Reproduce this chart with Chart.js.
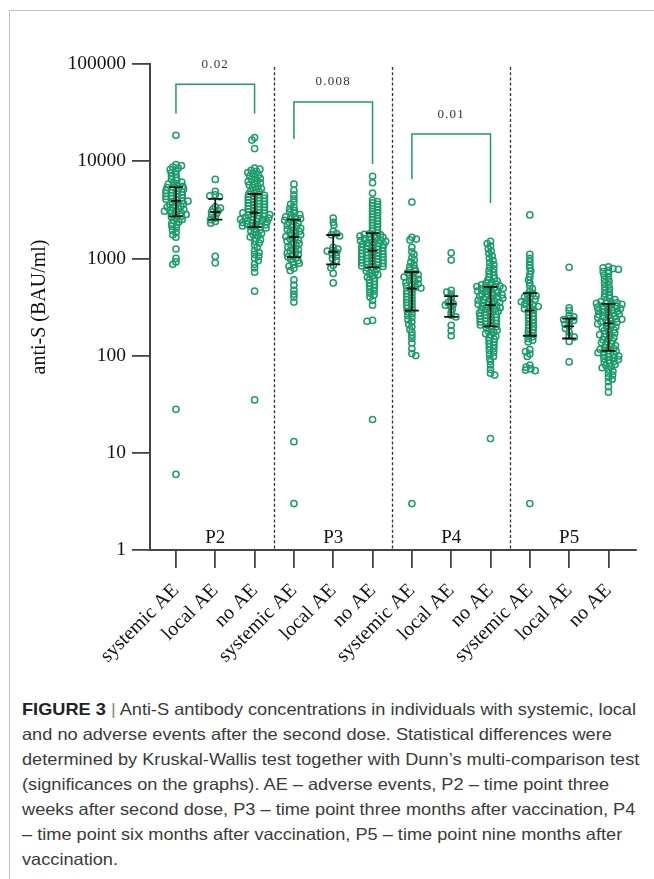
<!DOCTYPE html>
<html>
<head>
<meta charset="utf-8">
<script src="https://cdn.jsdelivr.net/npm/chart.js@4.4.1/dist/chart.umd.min.js"></script>
<style>
  html, body { margin: 0; padding: 0; background: #fff; }
  body { width: 654px; height: 879px; position: relative; overflow: hidden; }
  #frame { position: absolute; left: 9px; top: 10px; width: 660px; height: 900px;
           border-top: 1px solid #c4c4c4; border-left: 1px solid #c4c4c4; }
  #wrap { position: absolute; left: 0; top: 0; width: 654px; height: 680px; }
  #cap { position: absolute; left: 22px; top: 697px; color: #3a3a3a;
         font-family: 'Liberation Sans Narrow', 'Liberation Sans', Arial, sans-serif;
         font-size: 16.5px; line-height: 25px; white-space: nowrap; transform-origin: 0 0; }
  #cap span { display: block; }
  #cap b { color: #222; }
  #cap .bar { color: #888; }
</style>
</head>
<body>
<div id="frame"></div>
<div id="wrap"><canvas id="c" width="654" height="680"></canvas></div>
<div id="cap">
<span id="l1"><b>FIGURE 3</b> <span class="bar" style="display:inline">|</span> Anti-S antibody concentrations in individuals with systemic, local</span>
<span>and no adverse events after the second dose. Statistical differences were</span>
<span>determined by Kruskal-Wallis test together with Dunn’s multi-comparison test</span>
<span>(significances on the graphs). AE – adverse events, P2 – time point three</span>
<span>weeks after second dose, P3 – time point three months after vaccination, P4</span>
<span>– time point six months after vaccination, P5 – time point nine months after</span>
<span>vaccination.</span>
</div>
<script>
// ---------------- DATA ----------------
const categories = ['systemic AE','local AE','no AE','systemic AE','local AE','no AE',
                    'systemic AE','local AE','no AE','systemic AE','local AE','no AE'];
const periods = ['P2','P3','P4','P5'];
const yTicks = [1, 10, 100, 1000, 10000, 100000];

const p2Systemic = [18500, 9200, 9000, 8700, 8500, 8200, 7900, 7600, 7300, 7000, 6750, 6500, 6300, 6100, 5950, 5800, 5650, 5520, 5420,
  5350, 5258, 5168, 5079, 4992, 4906, 4822, 4739, 4658, 4578, 4499, 4422, 4346, 4271, 4198, 4126, 4055, 3985, 3920,
  3880, 3804, 3730, 3657, 3586, 3516, 3447, 3380, 3314, 3249, 3186, 3124, 3063, 3003, 2944, 2887, 2830, 2775, 2720,
  2660, 2590, 2520, 2450, 2380, 2300, 2220, 2140, 2050, 1950, 1850, 1750, 1650, 1250, 1000, 920, 870, 28, 6];
const p2Local = [6500, 4900, 4500, 4400, 4300, 3400, 3300, 3200, 3100, 3000, 2900, 2800, 2600, 2500, 2400, 2300, 1050, 900];
const p2None = [17500, 16500, 13500, 8500, 8274, 8054, 7840, 7632, 7429, 7232, 7040, 6853, 6671, 6494, 6321, 6153, 5990, 5831, 5676, 5525, 5378, 5235, 5096, 4961, 4829, 4700,
  4600, 4520, 4441, 4363, 4287, 4212, 4139, 4066, 3995, 3926, 3857, 3790, 3723, 3658, 3594, 3532, 3470, 3409, 3350, 3291, 3234, 3177, 3122, 3067, 3014, 2961,
  2940, 2901, 2862, 2824, 2786, 2748, 2712, 2675, 2639, 2604, 2569, 2535, 2501, 2467, 2434, 2402, 2370, 2338, 2306, 2276, 2245, 2215, 2185, 2156, 2127, 2100,
  2060, 2010, 1960, 1910, 1860, 1810, 1760, 1710, 1660, 1610, 1560, 1500, 1440, 1380, 1300, 1200, 1150, 1100, 1050, 1000, 950, 870, 800, 720, 460, 35];

const p3Systemic = [5800, 5000, 4500, 4100, 3800, 3600, 3400, 3250, 3120, 3000, 2900, 2820, 2750, 2680, 2620, 2570, 2530,
  2470, 2410, 2353, 2297, 2242, 2189, 2137, 2086, 2036, 1988, 1940, 1894, 1849, 1805, 1762, 1720, 1680,
  1640, 1594, 1549, 1506, 1463, 1422, 1382, 1343, 1306, 1269, 1233, 1199, 1165, 1132, 1100, 1070, 1040,
  1010, 980, 950, 920, 890, 860, 830, 790, 750, 600, 530, 470, 430, 400, 355, 13, 3];
const p3Local = [2600, 2350, 2200, 1900, 1800, 1750, 1700, 1300, 1250, 1210, 1190, 1150, 1100, 1050, 1000, 950, 850, 800, 700, 560];
const p3None = [7000, 6000, 4700, 3981, 3850, 3724, 3602, 3483, 3369, 3258, 3151, 3048, 2948, 2851, 2757, 2667, 2579, 2495, 2413, 2333, 2257, 2183, 2111, 2042, 1974, 1910, 1847,
  1800, 1773, 1746, 1720, 1694, 1668, 1643, 1618, 1593, 1569, 1545, 1522, 1499, 1476, 1454, 1432, 1410, 1388, 1367, 1347, 1326, 1306, 1286, 1267, 1248, 1229, 1210,
  1190, 1173, 1156, 1139, 1122, 1106, 1090, 1074, 1058, 1043, 1028, 1013, 998, 984, 969, 955, 941, 928, 914, 901, 888, 875, 862, 850, 837, 825, 815,
  800, 780, 760, 740, 720, 700, 680, 660, 640, 620, 600, 580, 560, 540, 520, 500, 480, 460, 440, 420, 400, 370, 330, 230, 225, 22];

const p4Systemic = [3800, 1650, 1580, 1550, 1300, 1170, 1100, 1020, 960, 910, 860, 820, 790, 760, 740,
  715, 696, 678, 660, 643, 626, 610, 594, 578, 563, 548, 534, 520, 507, 495,
  480, 464, 448, 433, 418, 404, 390, 377, 364, 352, 340, 328, 317, 306, 295,
  282, 270, 258, 246, 234, 222, 210, 198, 186, 174, 162, 150, 135, 118, 105, 100, 3];
const p4Local = [1140, 960, 470, 450, 430, 400, 370, 350, 340, 330, 320, 300, 280, 260, 250, 205, 180, 160];
const p4None = [1500, 1420, 1340, 1260, 1190, 1120, 1060, 1000, 950, 900, 860, 820, 780, 750, 720, 690, 665, 640, 620, 600, 585, 570, 557, 545, 535, 527, 520, 514,
  508, 500, 492, 485, 477, 470, 462, 455, 448, 441, 434, 427, 421, 414, 408, 401, 395, 389, 383, 377, 371, 365, 360, 354, 349, 343, 338, 332,
  328, 322, 316, 311, 305, 300, 295, 289, 284, 279, 274, 270, 265, 260, 256, 251, 247, 242, 238, 234, 230, 226, 222, 218, 214, 210, 206, 202,
  198, 193, 188, 183, 178, 173, 168, 163, 158, 153, 148, 143, 138, 133, 128, 123, 118, 113, 108, 103, 98, 93, 87, 80, 72, 66, 63, 14];

const p5Systemic = [2800, 1100, 1000, 920, 850, 790, 740, 690, 640, 600, 560, 520, 490, 460,
  435, 423, 411, 400, 389, 378, 368, 358, 348, 338, 329, 320, 311, 303, 295,
  285, 274, 263, 253, 243, 234, 225, 216, 207, 199, 192, 184, 177, 170, 163,
  156, 150, 144, 138, 115, 110, 104, 98, 80, 76, 73, 71, 70, 3];
const p5Local = [810, 310, 290, 260, 250, 240, 235, 230, 220, 210, 200, 190, 175, 160, 155, 140, 86];
const p5None = [820, 800, 785, 770, 750, 730, 700, 670, 640, 610, 585, 560, 535, 510, 490, 470, 450, 432, 415, 400, 388, 377, 367, 360, 354, 349, 345, 342,
  336, 331, 325, 320, 315, 310, 305, 300, 295, 290, 286, 281, 277, 272, 268, 264, 259, 255, 251, 247, 243, 239, 236, 232, 228, 224, 221, 217,
  212, 207, 202, 197, 193, 188, 184, 180, 175, 171, 167, 164, 160, 156, 153, 149, 146, 142, 139, 136, 133, 130, 127, 124, 121, 118, 116, 113,
  111, 109, 107, 105, 103, 101, 99, 97, 95, 93, 91, 89, 87, 85, 83, 81, 79, 77, 75, 72, 69, 66, 63, 60, 57, 54, 48, 42];

const groupValues = [p2Systemic, p2Local, p2None, p3Systemic, p3Local, p3None,
                     p4Systemic, p4Local, p4None, p5Systemic, p5Local, p5None];

// median and interquartile range drawn as error bars
const medians = [3900, 3000, 2950, 1660, 1170, 1200, 490, 340, 330, 290, 200, 215];
const q1s     = [2700, 2500, 2100, 1030, 870, 810, 290, 250, 200, 160, 150, 112];
const q3s     = [5400, 4100, 4600, 2500, 1740, 1820, 725, 410, 510, 440, 240, 340];

// significance brackets
const sigLabels   = ['0.02', '0.008', '0.01'];
const sigFrom     = [0, 3, 6];
const sigTo       = [2, 5, 8];
const sigTop      = [62000, 40600, 19000];
const sigLeftEnd  = [31000, 16900, 6560];
const sigRightEnd = [31000, 9350, 3720];

// ---------------- STYLE ----------------
const GREEN = '#1c9b6b';
const SERIF = "'Liberation Serif', 'Times New Roman', serif";

// anisotropic beeswarm: points in the same row are a diameter apart, rows may overlap vertically
function swarm(ys, ax, ay) {
  const order = ys.map((y, i) => i).sort((a, b) => ys[a] - ys[b]);
  const placed = [];
  const dx = new Array(ys.length).fill(0);
  let flip = 1;
  for (const i of order) {
    const y = ys[i];
    const near = placed.filter(p => Math.abs(p.y - y) < ay);
    const cands = [0];
    near.forEach(p => {
      const t = (p.y - y) / ay;
      const w = ax * Math.sqrt(1 - t * t);
      cands.push(p.x + w + 0.01, p.x - w - 0.01);
    });
    cands.sort((a, b) => (Math.abs(a) - Math.abs(b)) || (flip * (b - a)));
    let x = 0;
    for (const c of cands) {
      if (near.every(p => ((p.x - c) / ax) ** 2 + ((p.y - y) / ay) ** 2 >= 0.999)) { x = c; break; }
    }
    flip = -flip;
    placed.push({ x, y });
    dx[i] = x;
  }
  return dx;
}

const overlay = {
  id: 'overlay',
  afterDatasetsDraw(chart) {
    const ctx = chart.ctx, xs = chart.scales.x, ys = chart.scales.y, ca = chart.chartArea;
    ctx.save();
    // dashed period separators
    ctx.strokeStyle = '#333'; ctx.lineWidth = 1.3; ctx.setLineDash([3, 2.2]);
    [2.5, 5.5, 8.5].forEach(v => {
      const x = Math.round(xs.getPixelForValue(v)) + 0.5;
      ctx.beginPath(); ctx.moveTo(x, ca.top + 3); ctx.lineTo(x, ca.bottom); ctx.stroke();
    });
    ctx.setLineDash([]);
    // error bars (median + IQR)
    ctx.strokeStyle = '#111'; ctx.lineWidth = 1.8;
    medians.forEach((m, i) => {
      const x = xs.getPixelForValue(i);
      const yM = ys.getPixelForValue(m), y1 = ys.getPixelForValue(q1s[i]), y3 = ys.getPixelForValue(q3s[i]);
      ctx.beginPath();
      ctx.moveTo(x, y1); ctx.lineTo(x, y3);
      ctx.moveTo(x - 7, y1); ctx.lineTo(x + 7, y1);
      ctx.moveTo(x - 7, y3); ctx.lineTo(x + 7, y3);
      ctx.moveTo(x - 5, yM); ctx.lineTo(x + 5, yM);
      ctx.stroke();
    });
    // significance brackets
    ctx.strokeStyle = GREEN; ctx.lineWidth = 1.5;
    ctx.fillStyle = '#333'; ctx.font = '13px ' + SERIF;
    ctx.textAlign = 'center'; ctx.textBaseline = 'middle';
    sigLabels.forEach((lab, i) => {
      const xa = xs.getPixelForValue(sigFrom[i]), xb = xs.getPixelForValue(sigTo[i]);
      const yt = ys.getPixelForValue(sigTop[i]);
      ctx.beginPath();
      ctx.moveTo(xa, ys.getPixelForValue(sigLeftEnd[i]));
      ctx.lineTo(xa, yt); ctx.lineTo(xb, yt);
      ctx.lineTo(xb, ys.getPixelForValue(sigRightEnd[i]));
      ctx.stroke();
      if ('letterSpacing' in ctx) ctx.letterSpacing = '1.2px';
      ctx.fillText(lab, (xa + xb) / 2, yt - 20);
      if ('letterSpacing' in ctx) ctx.letterSpacing = '0px';
    });
    // period labels
    ctx.fillStyle = '#111'; ctx.font = '19px ' + SERIF;
    ctx.textBaseline = 'alphabetic';
    periods.forEach((p, i) => {
      ctx.fillText(p, xs.getPixelForValue(i * 3 + 1), ca.bottom - 7);
    });
    ctx.restore();
  }
};

const chart = new Chart(document.getElementById('c'), {
  type: 'scatter',
  data: {
    datasets: groupValues.map((vals, gi) => ({
      data: vals.map(v => ({ x: gi, y: v })),
      pointRadius: 3.1, pointHoverRadius: 3.1,
      borderColor: GREEN, backgroundColor: 'rgba(255,255,255,0)', borderWidth: 1.5,
      pointStyle: 'circle'
    }))
  },
  options: {
    responsive: false, animation: false,
    events: [],
    layout: { padding: { top: 64, right: 18, left: 18, bottom: 0 } },
    plugins: { legend: { display: false }, tooltip: { enabled: false } },
    scales: {
      x: {
        type: 'linear', min: -0.66, max: 11.7,
        afterBuildTicks: s => { s.ticks = categories.map((c, i) => ({ value: i })); },
        afterFit: s => { s.height = 130; },
        ticks: {
          autoSkip: false, minRotation: 45, maxRotation: 45, padding: 11,
          color: '#111', font: { family: SERIF, size: 20 },
          callback: v => categories[v]
        },
        grid: { drawOnChartArea: false, drawTicks: true, tickLength: 18, color: '#444', lineWidth: 1.8 },
        border: { display: true, color: '#444', width: 2 }
      },
      y: {
        type: 'logarithmic', min: 1, max: 100000,
        afterBuildTicks: s => { s.ticks = yTicks.map(v => ({ value: v })); },
        afterFit: s => { s.width = 132; },
        ticks: { color: '#111', padding: 6, font: { family: SERIF, size: 19.5 }, callback: v => String(v) },
        grid: { drawOnChartArea: false, drawTicks: true, tickLength: 18, color: '#444', lineWidth: 1.8 },
        border: { display: true, color: '#444', width: 2 },
        title: { display: true, text: 'anti-S (BAU/ml)', color: '#111',
                 font: { family: SERIF, size: 20 }, padding: { top: 10, bottom: 0 } }
      }
    }
  },
  plugins: [overlay]
});

// beeswarm placement computed through the chart's own scales
(function placeSwarm() {
  const xs = chart.scales.x, ys = chart.scales.y;
  const unit = xs.getPixelForValue(1) - xs.getPixelForValue(0);
  chart.data.datasets.forEach((ds, gi) => {
    const py = groupValues[gi].map(v => ys.getPixelForValue(v));
    const off = swarm(py, 5.8, 2.8);
    ds.data = groupValues[gi].map((v, k) => ({ x: gi + off[k] / unit, y: v }));
  });
  chart.update('none');
})();

// fit caption first line width
(function fitCaption() {
  const cap = document.getElementById('cap');
  const l1 = document.getElementById('l1');
  l1.style.display = 'inline-block';
  const w = l1.getBoundingClientRect().width;
  l1.style.display = 'block';
  if (w > 0) cap.style.transform = 'scaleX(' + (614 / w) + ')';
})();
</script>
</body>
</html>
